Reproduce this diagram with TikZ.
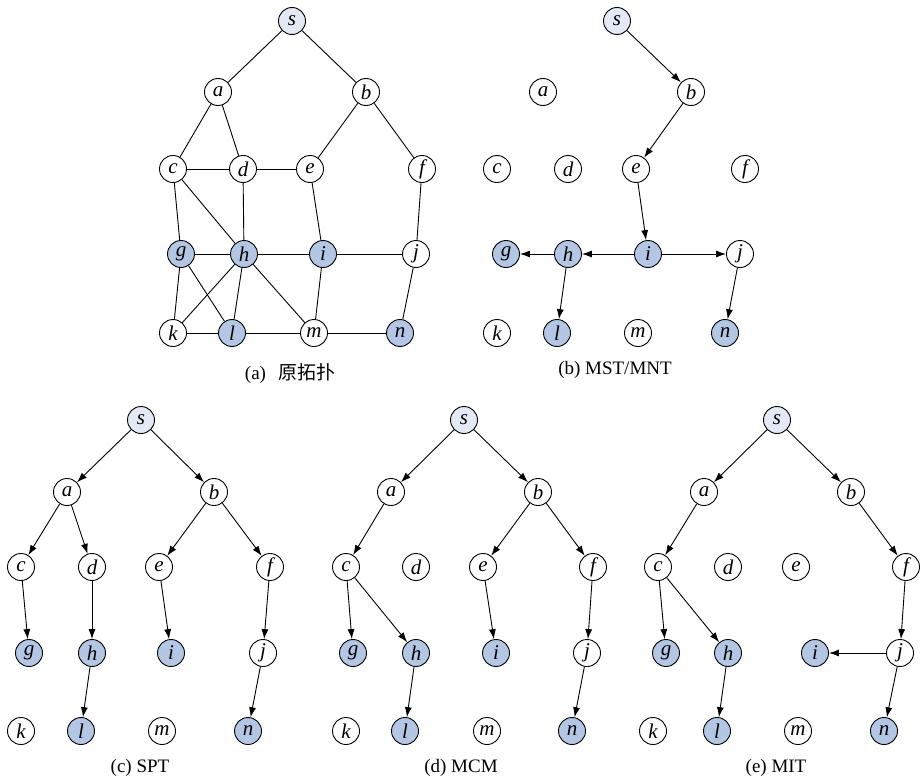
\documentclass[tikz,border=0pt]{standalone}
\usepackage{fontspec}
\setmainfont{Liberation Serif}
\newfontfamily\cjk{Noto Sans CJK SC}
\usetikzlibrary{arrows.meta}
\definecolor{srcfill}{HTML}{E3E9F5}
\definecolor{memfill}{HTML}{B3C6E4}
\tikzset{
  v/.style={circle,draw=black,line width=0.9pt,fill=white,minimum size=27pt,inner sep=0pt,font=\fontsize{21}{21}\selectfont\itshape},
  src/.style={v,fill=srcfill},
  mem/.style={v,fill=memfill},
  link/.style={line width=0.9pt},
  arr/.style={line width=0.9pt,-{Latex[length=10pt,width=7pt]}},
  subcap/.style={font=\fontsize{19}{19}\selectfont}
}
\begin{document}
\begin{tikzpicture}[x=1pt,y=-1pt]
\useasboundingbox (0,0) rectangle (921,784);

% ---------- (a) original topology ----------
\node[src] (As) at (292,21) {s};
\node[v]   (Aa) at (218,92) {a};
\node[v]   (Ab) at (366,92) {b};
\node[v]   (Ac) at (173,169) {c};
\node[v]   (Ad) at (243,169) {d};
\node[v]   (Ae) at (310,169) {e};
\node[v]   (Af) at (422,169) {f};
\node[mem] (Ag) at (181,254) {g};
\node[mem] (Ah) at (244,254) {h};
\node[mem] (Ai) at (323,254) {i};
\node[v]   (Aj) at (416,254) {j};
\node[v]   (Ak) at (173,333) {k};
\node[mem] (Al) at (232,333) {l};
\node[v]   (Am) at (314,333) {m};
\node[mem] (An) at (400,333) {n};
\foreach \p/\q in {As/Aa,As/Ab,Aa/Ac,Aa/Ad,Ab/Ae,Ab/Af,Ac/Ad,Ad/Ae,Ac/Ag,Ac/Ah,Ad/Ah,
  Ae/Ai,Af/Aj,Ag/Ah,Ah/Ai,Ai/Aj,Ag/Ak,Ag/Al,Ah/Ak,Ah/Al,Ah/Am,Ai/Am,Aj/An,Ak/Al,Al/Am,Am/An}
  \draw[link] (\p) -- (\q);
\node[subcap] (Acap) at (290,374) {(a)\hspace{12pt}{\cjk 原拓扑}};

% ---------- (b) MST/MNT ----------
\node[src] (Bs) at (617,21) {s};
\node[v]   (Ba) at (543,92) {a};
\node[v]   (Bb) at (691,92) {b};
\node[v]   (Bc) at (497,169) {c};
\node[v]   (Bd) at (568,169) {d};
\node[v]   (Be) at (636,169) {e};
\node[v]   (Bf) at (745,169) {f};
\node[mem] (Bg) at (506,254) {g};
\node[mem] (Bh) at (568,254) {h};
\node[mem] (Bi) at (648,254) {i};
\node[v]   (Bj) at (740,254) {j};
\node[v]   (Bk) at (497,333) {k};
\node[mem] (Bl) at (557,333) {l};
\node[v]   (Bm) at (638,333) {m};
\node[mem] (Bn) at (725,333) {n};
\foreach \p/\q in {Bs/Bb,Bb/Be,Be/Bi,Bi/Bh,Bh/Bg,Bi/Bj,Bh/Bl,Bj/Bn}
  \draw[arr] (\p) -- (\q);
\node[subcap] (Bcap) at (615,370) {(b) MST/MNT};

% ---------- (c) SPT ----------
\node[src] (Cs) at (141,420) {s};
\node[v]   (Ca) at (67,492) {a};
\node[v]   (Cb) at (214,492) {b};
\node[v]   (Cc) at (21,567) {c};
\node[v]   (Cd) at (92,567) {d};
\node[v]   (Ce) at (159,567) {e};
\node[v]   (Cf) at (270,567) {f};
\node[mem] (Cg) at (29,653) {g};
\node[mem] (Ch) at (92,653) {h};
\node[mem] (Ci) at (171,653) {i};
\node[v]   (Cj) at (263,653) {j};
\node[v]   (Ck) at (21,731) {k};
\node[mem] (Cl) at (81,731) {l};
\node[v]   (Cm) at (162,731) {m};
\node[mem] (Cn) at (248,731) {n};
\foreach \p/\q in {Cs/Ca,Cs/Cb,Ca/Cc,Ca/Cd,Cb/Ce,Cb/Cf,Cc/Cg,Cd/Ch,Ce/Ci,Cf/Cj,Ch/Cl,Cj/Cn}
  \draw[arr] (\p) -- (\q);
\node[subcap] (Ccap) at (140,768) {(c) SPT};

% ---------- (d) MCM ----------
\node[src] (Ds) at (464,420) {s};
\node[v]   (Da) at (391,492) {a};
\node[v]   (Db) at (538,492) {b};
\node[v]   (Dc) at (346,567) {c};
\node[v]   (Dd) at (416,567) {d};
\node[v]   (De) at (483,567) {e};
\node[v]   (Df) at (593,567) {f};
\node[mem] (Dg) at (353,653) {g};
\node[mem] (Dh) at (416,653) {h};
\node[mem] (Di) at (496,653) {i};
\node[v]   (Dj) at (587,653) {j};
\node[v]   (Dk) at (346,731) {k};
\node[mem] (Dl) at (405,731) {l};
\node[v]   (Dm) at (487,731) {m};
\node[mem] (Dn) at (572,731) {n};
\foreach \p/\q in {Ds/Da,Ds/Db,Da/Dc,Db/De,Db/Df,Dc/Dg,Dc/Dh,De/Di,Df/Dj,Dh/Dl,Dj/Dn}
  \draw[arr] (\p) -- (\q);
\node[subcap] (Dcap) at (461,768) {(d) MCM};

% ---------- (e) MIT ----------
\node[src] (Es) at (777,420) {s};
\node[v]   (Ea) at (704,492) {a};
\node[v]   (Eb) at (851,492) {b};
\node[v]   (Ec) at (658,567) {c};
\node[v]   (Ed) at (728,567) {d};
\node[v]   (Ee) at (796,567) {e};
\node[v]   (Ef) at (906,567) {f};
\node[mem] (Eg) at (666,653) {g};
\node[mem] (Eh) at (728,653) {h};
\node[mem] (Ei) at (815,653) {i};
\node[v]   (Ej) at (900,653) {j};
\node[v]   (Ek) at (653,731) {k};
\node[mem] (El) at (717,731) {l};
\node[v]   (Em) at (798,731) {m};
\node[mem] (En) at (884,731) {n};
\foreach \p/\q in {Es/Ea,Es/Eb,Ea/Ec,Eb/Ef,Ec/Eg,Ec/Eh,Ef/Ej,Ej/Ei,Eh/El,Ej/En}
  \draw[arr] (\p) -- (\q);
\node[subcap] (Ecap) at (776,768) {(e) MIT};
\end{tikzpicture}
\end{document}
